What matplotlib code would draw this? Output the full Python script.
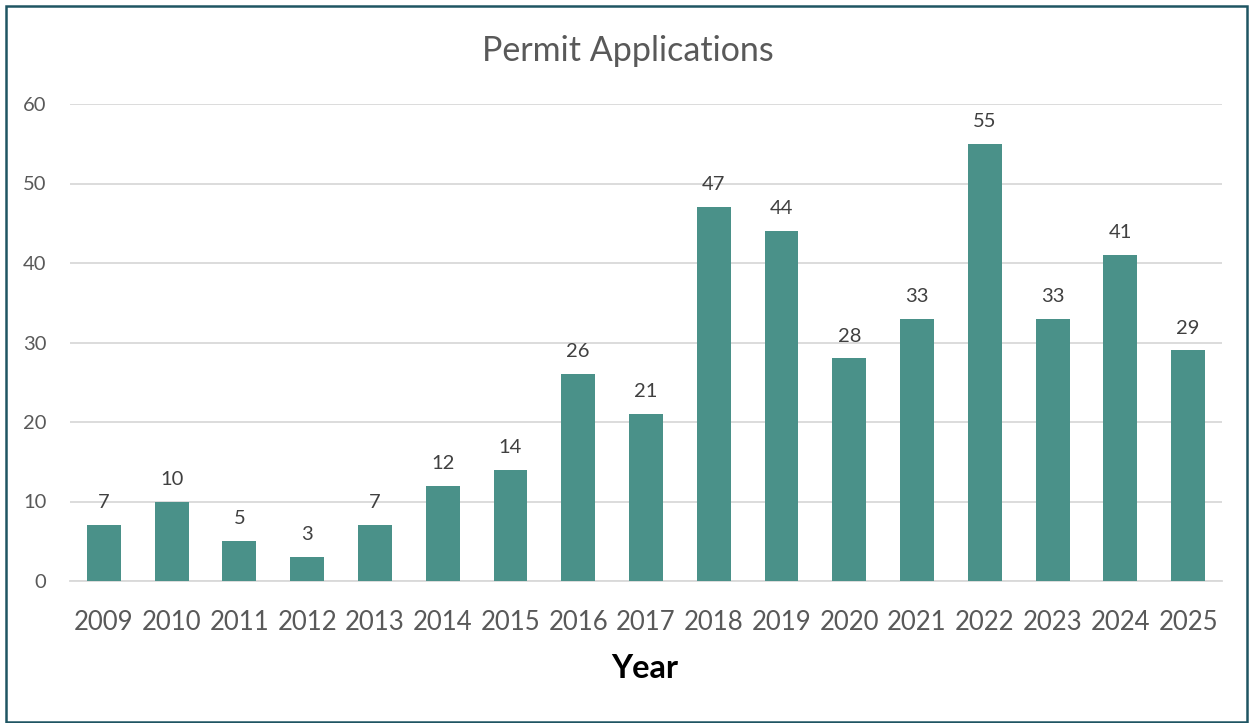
import matplotlib
matplotlib.use("Agg")
import matplotlib.pyplot as plt
from matplotlib.patches import Rectangle

years = [str(y) for y in range(2009, 2026)]
values = [7, 10, 5, 3, 7, 12, 14, 26, 21, 47, 44, 28, 33, 55, 33, 41, 29]
yticks = [0, 10, 20, 30, 40, 50, 60]

plt.rcParams['font.family'] = ['Lato', 'DejaVu Sans']
grey = '#595959'
bar_color = '#4A9189'

fig = plt.figure(figsize=(12.51, 7.23), dpi=100)
ax = fig.add_axes([70/1251, 1 - 581/723, (1222-70)/1251, (581-104)/723])

x = list(range(len(years)))
bars = ax.bar(x, values, width=0.5, color=bar_color, zorder=3)
ax.set_xlim(-0.5, len(years) - 0.5)
ax.set_ylim(0, 60)
ax.set_yticks(yticks)
ax.set_xticks(x)
ax.set_xticklabels(years, fontsize=18.5, color=grey)
ax.tick_params(axis='x', length=0, pad=21)
ax.tick_params(axis='y', length=0, pad=17, labelsize=14.5, labelcolor=grey)
ax.grid(axis='y', color='#D9D9D9', linewidth=1.3, zorder=0)
for s in ['top', 'right', 'left']:
    ax.spines[s].set_visible(False)
ax.spines['bottom'].set_color('#D9D9D9')
ax.spines['bottom'].set_linewidth(1.3)

for xi, v in zip(x, values):
    ax.annotate(str(v), (xi, v), xytext=(0, 10), textcoords='offset points',
                ha='center', va='bottom', fontsize=14.5, color='#404040')

fig.text(628/1251, 1 - 51/723, 'Permit Applications', ha='center', va='center',
         fontsize=24.5, color=grey)
fig.text(645/1251, 1 - 668/723, 'Year', ha='center', va='center',
         fontsize=23.5, fontweight='bold', color='black')

fig.patches.append(Rectangle((5.5/1251, 1/723), 1241/1251, 716/723, transform=fig.transFigure,
                             fill=False, edgecolor='#1F5563', linewidth=1.8))

fig.savefig('out.png', dpi=100)
